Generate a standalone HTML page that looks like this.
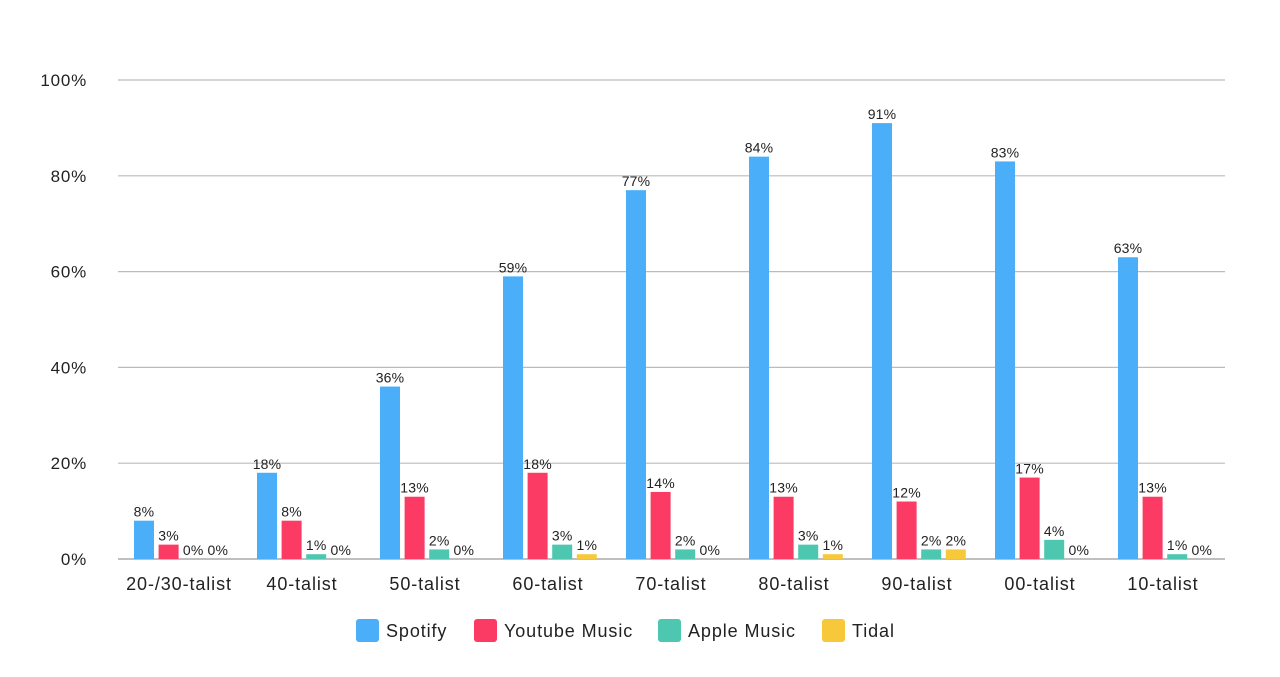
<!DOCTYPE html>
<html><head><meta charset="utf-8"><style>
body{margin:0;background:#fff;width:1280px;height:672px;overflow:hidden}
text{font-family:"Liberation Sans",sans-serif}
</style></head><body>
<svg id="c" width="1280" height="672" xmlns="http://www.w3.org/2000/svg"></svg>
<script>
var s='';
var y0=559,k=4.79;
for(var i=0;i<=5;i++){var y=y0-i*20*k;
s+='<line x1="118" x2="1225" y1="'+y+'" y2="'+y+'" stroke="'+(i==0?'#999':'#bbb')+'" stroke-width="1.2"/>';
s+='<text x="87" y="'+(y+6)+'" font-size="17" letter-spacing="0.8" fill="#222" text-anchor="end">'+(i*20)+'%</text>';}
var cats=["20-/30-talist","40-talist","50-talist","60-talist","70-talist","80-talist","90-talist","00-talist","10-talist"];
var d=[[8,3,0,0],[18,8,1,0],[36,13,2,0],[59,18,3,1],[77,14,2,0],[84,13,3,1],[91,12,2,2],[83,17,4,0],[63,13,1,0]];
var col=["#4aaff8","#fb3b64","#4dc7b0","#f7c93a"];
for(var g=0;g<9;g++){var gx=118+123*g;
for(var j=0;j<4;j++){var x=gx+16+j*24.6,h=d[g][j]*k;
if(h>0)s+='<rect x="'+x+'" y="'+(y0-h)+'" width="20" height="'+h+'" fill="'+col[j]+'"/>';
s+='<text x="'+(x+10)+'" y="'+(y0-h-4)+'" font-size="14" letter-spacing="0.2" fill="#222" text-anchor="middle">'+d[g][j]+'%</text>';}
s+='<text x="'+(gx+61)+'" y="590" font-size="18" letter-spacing="0.9" fill="#222" text-anchor="middle">'+cats[g]+'</text>';}
var L=[["Spotify",356],["Youtube Music",474],["Apple Music",658],["Tidal",822]];
for(var j=0;j<4;j++){s+='<rect x="'+L[j][1]+'" y="619" width="23" height="23" rx="3" fill="'+col[j]+'"/>';
s+='<text x="'+(L[j][1]+30)+'" y="637" font-size="18" letter-spacing="0.9" fill="#222">'+L[j][0]+'</text>';}
document.getElementById('c').innerHTML=s;
</script>
</body></html>
